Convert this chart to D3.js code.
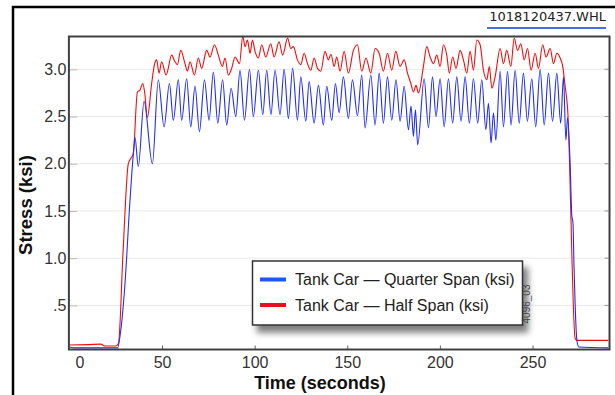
<!DOCTYPE html>
<html>
<head>
<meta charset="utf-8">
<script src="https://cdn.jsdelivr.net/npm/d3@7"></script>
<style>
  body { margin: 0; background: #fff; }
  svg { display: block; font-family: "Liberation Sans", Arial, sans-serif; }
</style>
</head>
<body>
<div id="chart"></div>
<script>
// Tank car stress record
const seriesNames = ['Tank Car \u2014 Quarter Span (ksi)', 'Tank Car \u2014 Half Span (ksi)'];
const seriesColors = ['#1f2df5', '#f50a0a'];
const legendColors = ['#1f55ff', '#e8101c'];
const xTicks = [0, 50, 100, 150, 200, 250];
const yTicks = [0.5, 1.0, 1.5, 2.0, 2.5, 3.0];
const fileLabel = '1018120437.WHL';
const figureId = '4096_03';

// [time (s), stress (ksi)]
const quarterSpan = [
  [0, 0.06], [3, 0.05], [10, 0.05], [20, 0.05], [26, 0.05], [27.5, 0.2], [30, 0.73], [32.7, 1.61],
  [34.5, 2.1], [35.4, 2.28], [37.2, 1.97], [40.3, 2.66], [44.8, 2.0], [48, 2.89], [51.1, 2.39],
  [54, 2.85], [56.1, 2.46], [58.8, 2.89], [60.6, 2.46], [63.3, 2.9], [65.5, 2.39], [67.8, 2.82],
  [70.2, 2.34], [72.9, 2.89], [75.4, 2.46], [77.7, 2.97], [80.1, 2.43], [82.7, 2.89], [84.9, 2.41],
  [87.3, 2.8], [89.8, 2.5], [92.1, 2.99], [94.5, 2.46], [97.2, 3.0], [99.3, 2.5], [102, 2.99],
  [104.4, 2.52], [106.5, 2.99], [108.8, 2.52], [111, 2.99], [113.7, 2.52], [115.9, 3.0], [118.2, 2.48],
  [120.5, 3.01], [123.1, 2.46], [124.9, 2.92], [127.6, 2.45], [129.4, 2.87], [132.1, 2.43], [134.4, 2.83],
  [137.1, 2.41], [138.9, 2.82], [141.6, 2.46], [143.6, 2.85], [145.6, 2.54], [147.9, 2.92], [150.6, 2.48],
  [152.8, 2.89], [155.5, 2.51], [157.8, 2.94], [159.6, 2.38], [162.7, 2.94], [165.0, 2.41], [167.2, 2.96],
  [169.5, 2.43], [171.7, 2.92], [174.0, 2.46], [176.3, 2.89], [178.5, 2.45], [180.7, 2.82], [183.0, 2.36],
  [184.4, 2.61], [185.7, 2.29], [186.8, 2.57], [188.0, 2.2], [191.5, 2.9], [193.8, 2.38], [196.0, 2.92],
  [197.9, 2.5], [200.1, 2.9], [202.3, 2.39], [204.6, 2.9], [206.9, 2.43], [209.1, 2.92], [211.4, 2.45],
  [213.6, 2.92], [215.9, 2.43], [218.1, 2.9], [220.4, 2.43], [222.6, 2.89], [224.8, 2.36], [226.2, 2.64],
  [227.6, 2.22], [228.9, 2.54], [230.2, 2.25], [232.5, 2.98], [234.3, 2.39], [236.5, 2.98], [238.4, 2.41],
  [240.6, 2.99], [242.8, 2.43], [245.1, 2.96], [247.2, 2.45], [249.6, 2.9], [251.7, 2.39], [254.1, 3.0],
  [256.3, 2.41], [258.6, 2.96], [260.8, 2.45], [263.1, 2.96], [265.2, 2.43], [266.7, 2.92], [268.0, 2.25],
  [268.9, 2.49], [270.3, 2.0], [271.2, 1.45], [271.8, 1.38], [272.4, 0.9], [274, 0.12], [275, 0.06], [291, 0.05]
];

const halfSpan = [
  [0, 0.08], [10, 0.085], [17, 0.09], [19, 0.07], [25, 0.07], [26.5, 0.1], [29, 1.08], [31.8, 2.0],
  [33.6, 2.07], [34.5, 2.11], [36.7, 2.76], [38.1, 2.78], [39.6, 2.85], [40.6, 2.76], [42.1, 2.49],
  [44.4, 2.85], [45.9, 3.05], [47.1, 3.1], [48.4, 2.96], [49.8, 3.08], [52.2, 2.94], [55.2, 3.15],
  [57, 3.08], [58.3, 3.05], [60.1, 3.2], [62.4, 3.06], [63.7, 2.98], [65.1, 3.08], [67.5, 2.94],
  [69.6, 3.12], [71.4, 3.01], [74.1, 3.2], [75.9, 3.13], [78.3, 3.26], [80.4, 3.15], [82.6, 3.03],
  [84, 3.12], [85.8, 2.94], [87.6, 3.01], [89.4, 3.13], [91.8, 3.06], [93.6, 3.35], [94.8, 3.24],
  [96.1, 3.31], [97.5, 3.17], [98.8, 3.31], [100.2, 3.19], [102, 3.12], [103.8, 3.26], [106, 3.13],
  [108.7, 3.27], [110.5, 3.13], [113.2, 3.29], [115.1, 3.15], [117.8, 3.33], [119.5, 3.22], [120.9, 3.24],
  [123.1, 3.1], [124.9, 3.05], [126.7, 3.17], [128.5, 3.06], [130.3, 2.99], [132.1, 3.12], [133.9, 3.01],
  [135.7, 2.98], [138, 3.19], [139.8, 3.1], [141.2, 3.16], [142.9, 3.03], [144.3, 3.13], [146.1, 2.98],
  [148.3, 3.19], [150.6, 2.96], [153.3, 3.2], [155.5, 3.26], [157.8, 2.98], [160.1, 3.12], [162.7, 2.96],
  [165, 3.22], [167.2, 3.17], [169.5, 2.98], [171.7, 3.17], [174, 2.99], [176.2, 3.19], [178.5, 3.03],
  [180.7, 3.1], [182.5, 2.96], [184.3, 2.85], [185.7, 2.76], [187.1, 2.83], [188.4, 2.75], [191.1, 3.03],
  [192.9, 3.24], [194.7, 3.13], [196.5, 3.06], [198.3, 3.15], [200.1, 3.03], [201.9, 3.26], [203.7, 3.15],
  [205.1, 2.96], [206.9, 3.13], [208.7, 3.01], [210.9, 3.2], [212.7, 3.1], [214.5, 2.96], [216.3, 3.19],
  [218.1, 2.99], [219.9, 3.31], [221.7, 3.26], [223.5, 2.99], [225.3, 2.89], [226.7, 3.03], [228, 2.8],
  [229.8, 2.92], [232.5, 3.22], [234.3, 3.06], [236.1, 3.2], [238.3, 3.03], [240.1, 3.33], [241.9, 3.2],
  [243.7, 3.27], [245.5, 3.1], [247.3, 3.22], [249.2, 2.99], [251.4, 3.17], [253.2, 3.01], [255.5, 3.26],
  [257.3, 3.13], [259.5, 3.22], [261.3, 3.06], [263.1, 3.17], [264.9, 3.12], [266.3, 3.03], [267.6, 2.82],
  [268.9, 2.59], [273, 0.15], [274, 0.13], [291, 0.13]
];

const width = 615, height = 395;
const plot = { left: 69.4, right: 608.5, top: 37, bottom: 349.5 };

const svg = d3.select('#chart').append('svg')
  .attr('width', width)
  .attr('height', height);

const defs = svg.append('defs');
defs.append('clipPath').attr('id', 'plot-clip')
  .append('rect')
  .attr('x', plot.left).attr('y', plot.top)
  .attr('width', plot.right - plot.left).attr('height', plot.bottom - plot.top);

const shadow = defs.append('filter').attr('id', 'shadow')
  .attr('x', '-10%').attr('y', '-20%').attr('width', '130%').attr('height', '160%');
shadow.append('feDropShadow')
  .attr('dx', 5).attr('dy', 7).attr('stdDeviation', 3)
  .attr('flood-color', '#555').attr('flood-opacity', 0.75);

// outer page frame
svg.append('path')
  .attr('d', 'M13,400V7H620')
  .attr('fill', 'none')
  .attr('stroke', '#000')
  .attr('stroke-width', 2.5);

// file name with underline
svg.append('text')
  .attr('x', 606).attr('y', 21)
  .attr('text-anchor', 'end')
  .attr('font-family', '"DejaVu Sans", sans-serif')
  .attr('font-size', 13)
  .attr('fill', '#222')
  .text(fileLabel);
svg.append('line')
  .attr('x1', 487).attr('x2', 606).attr('y1', 28).attr('y2', 28)
  .attr('stroke', '#4a6ee6').attr('stroke-width', 2);

const x = d3.scaleLinear().domain([0, 291]).range([plot.left, plot.right]);
const y = d3.scaleLinear().domain([0.033, 3.342]).range([plot.bottom, plot.top]);

// horizontal grid
svg.append('g')
  .selectAll('line')
  .data(yTicks)
  .join('line')
  .attr('x1', plot.left).attr('x2', plot.right)
  .attr('y1', d => y(d)).attr('y2', d => y(d))
  .attr('stroke', '#e9e9e9')
  .attr('stroke-width', 1);

// right side inward ticks
svg.append('g')
  .selectAll('line')
  .data(yTicks)
  .join('line')
  .attr('x1', plot.right - 4).attr('x2', plot.right)
  .attr('y1', d => y(d)).attr('y2', d => y(d))
  .attr('stroke', '#999');

const fmtY = d => d === 0.5 ? '.5' : d3.format('.1f')(d);

const yAxis = svg.append('g')
  .attr('transform', `translate(${plot.left},0)`)
  .call(d3.axisLeft(y).tickValues(yTicks).tickFormat(fmtY).tickSize(-8).tickPadding(3));
yAxis.select('.domain').remove();
yAxis.selectAll('line').attr('stroke', '#bbb');
yAxis.selectAll('text')
  .attr('font-size', 16)
  .attr('fill', '#333')
  .attr('font-family', '"Liberation Sans", Arial, sans-serif');

const xAxis = svg.append('g')
  .attr('transform', `translate(0,${plot.bottom})`)
  .call(d3.axisBottom(x).tickValues(xTicks).tickSize(-4).tickPadding(7));
xAxis.select('.domain').remove();
xAxis.selectAll('line').attr('stroke', '#666');
xAxis.selectAll('text')
  .attr('font-size', 16)
  .attr('fill', '#333')
  .attr('font-family', '"Liberation Sans", Arial, sans-serif');
// the zero label sits just inside the frame
xAxis.selectAll('.tick').filter(d => d === 0).select('text').attr('dx', 10);
xAxis.selectAll('.tick').filter(d => d === 0).select('line').remove();

// data lines
const line = d3.line()
  .x(d => x(d[0]))
  .y(d => y(d[1]))
  .curve(d3.curveMonotoneX);

const lines = svg.append('g').attr('clip-path', 'url(#plot-clip)');
[halfSpan, quarterSpan].forEach((series, i) => {
  lines.append('path')
    .datum(series)
    .attr('fill', 'none')
    .attr('stroke', seriesColors[1 - i])
    .attr('stroke-width', 1.1)
    .attr('stroke-linejoin', 'round')
    .attr('d', line);
});

// plot frame
svg.append('rect')
  .attr('x', plot.left - 0.5).attr('y', plot.top - 0.5)
  .attr('width', plot.right - plot.left + 1.5).attr('height', plot.bottom - plot.top + 0.5)
  .attr('fill', 'none')
  .attr('stroke', '#404040')
  .attr('stroke-width', 2);

// axis titles
svg.append('text')
  .attr('x', 320).attr('y', 388.5)
  .attr('text-anchor', 'middle')
  .attr('font-size', 18)
  .attr('font-weight', 'bold')
  .attr('fill', '#111')
  .text('Time (seconds)');

svg.append('text')
  .attr('transform', 'translate(32,205) rotate(-90)')
  .attr('text-anchor', 'middle')
  .attr('font-size', 18.5)
  .attr('font-weight', 'bold')
  .attr('fill', '#111')
  .text('Stress (ksi)');

// legend
const legend = svg.append('g');
legend.append('rect')
  .attr('x', 252.5).attr('y', 261)
  .attr('width', 270).attr('height', 64)
  .attr('fill', '#fff')
  .attr('stroke', '#333')
  .attr('stroke-width', 1.5)
  .attr('filter', 'url(#shadow)');

const rows = legend.selectAll('g.row')
  .data(seriesNames)
  .join('g')
  .attr('class', 'row')
  .attr('transform', (d, i) => `translate(0,${279.5 + i * 25.5})`);
rows.append('line')
  .attr('x1', 260).attr('x2', 286)
  .attr('stroke', (d, i) => legendColors[i])
  .attr('stroke-width', 4);
rows.append('text')
  .attr('x', 295)
  .attr('dy', '0.35em')
  .attr('font-size', 16)
  .attr('fill', '#222')
  .text(d => d);

svg.append('text')
  .attr('transform', 'translate(530,304) rotate(-90)')
  .attr('text-anchor', 'middle')
  .attr('font-size', 10)
  .attr('fill', '#444')
  .text(figureId);
</script>
</body>
</html>
